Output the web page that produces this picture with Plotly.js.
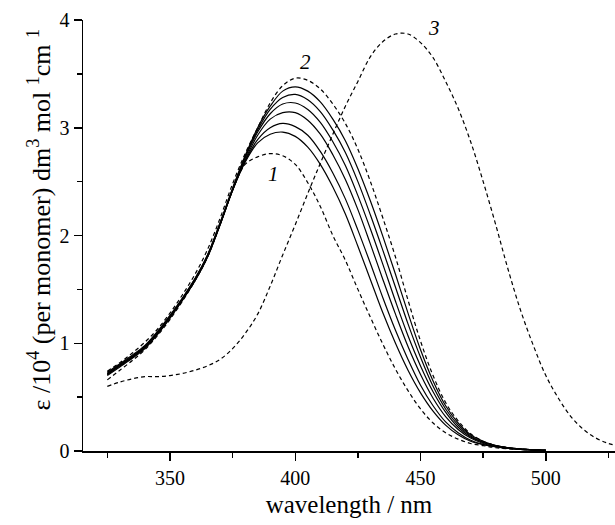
<!DOCTYPE html>
<html>
<head>
<meta charset="utf-8">
<script src="https://cdn.plot.ly/plotly-3.0.1.min.js"></script>
<style>
html,body{margin:0;padding:0;background:#fff;}
#chart{width:615px;height:525px;}
</style>
</head>
<body>
<div id="chart"></div>
<script>
// wavelengths (nm)
const wavelength = [325,330,335,340,345,350,355,360,365,370,375,380,385,390,395,400,405,410,415,420,425,430,435,440,445,450,455,460,465,470,475,480,485,490,495,500];
const wavelength3 = [325,330,335,340,345,350,355,360,365,370,375,380,385,390,395,400,405,410,415,420,425,430,435,440,445,450,455,460,465,470,475,480,485,490,495,500,505,510,515,520,525,530];

// dashed curve 1
const curve1 = [0.66,0.75,0.84,0.94,1.07,1.22,1.39,1.58,1.80,2.10,2.42,2.66,
                2.73,2.76,2.74,2.66,2.49,2.27,2.00,1.77,1.50,1.24,0.99,0.76,
                0.56,0.39,0.26,0.17,0.11,0.07,0.05,0.03,0.02,0.015,0.01,0.005];
// dashed curve 2
const curve2 = [0.74,0.82,0.91,1.01,1.13,1.28,1.45,1.64,1.87,2.16,2.48,2.76,
                3.00,3.23,3.39,3.46,3.44,3.36,3.22,3.04,2.80,2.50,2.16,1.80,
                1.40,1.02,0.70,0.45,0.28,0.16,0.09,0.05,0.03,0.02,0.01,0.005];
// dashed curve 3
const curve3 = [0.60,0.64,0.67,0.69,0.69,0.70,0.72,0.75,0.79,0.85,0.95,1.09,
                1.27,1.53,1.82,2.10,2.39,2.67,2.94,3.20,3.43,3.66,3.80,3.87,
                3.87,3.79,3.65,3.43,3.18,2.87,2.50,2.10,1.68,1.30,0.98,0.70,
                0.49,0.32,0.20,0.12,0.07,0.04];
// intermediate solid curves
const solid1 = [0.70,0.78,0.86,0.95,1.08,1.23,1.40,1.58,1.80,2.10,2.42,2.68,
                2.86,2.94,2.96,2.92,2.82,2.66,2.45,2.20,1.90,1.59,1.28,1.00,
                0.75,0.54,0.37,0.24,0.15,0.09,0.06,0.04,0.025,0.015,0.01,0.005];
const solid2 = [0.71,0.79,0.87,0.96,1.09,1.24,1.40,1.58,1.80,2.10,2.42,2.69,
                2.89,3.00,3.04,3.01,2.93,2.78,2.58,2.34,2.05,1.74,1.42,1.12,
                0.85,0.61,0.42,0.27,0.17,0.10,0.06,0.04,0.025,0.015,0.01,0.005];
const solid3 = [0.71,0.79,0.87,0.96,1.09,1.24,1.41,1.59,1.81,2.10,2.42,2.70,
                2.93,3.08,3.14,3.14,3.07,2.94,2.75,2.52,2.24,1.92,1.59,1.27,
                0.97,0.71,0.49,0.32,0.20,0.12,0.07,0.04,0.025,0.015,0.01,0.005];
const solid4 = [0.72,0.80,0.88,0.97,1.10,1.25,1.41,1.59,1.81,2.11,2.43,2.72,
                2.96,3.13,3.22,3.23,3.17,3.05,2.87,2.65,2.37,2.06,1.73,1.39,
                1.07,0.79,0.55,0.36,0.22,0.13,0.08,0.05,0.03,0.015,0.01,0.005];
const solid5 = [0.72,0.80,0.88,0.97,1.10,1.25,1.42,1.60,1.82,2.11,2.43,2.73,
                2.98,3.17,3.28,3.31,3.26,3.15,2.98,2.77,2.50,2.19,1.86,1.52,
                1.18,0.87,0.60,0.39,0.24,0.14,0.08,0.05,0.03,0.02,0.01,0.005];
const solid6 = [0.73,0.81,0.89,0.98,1.11,1.26,1.42,1.60,1.82,2.12,2.44,2.74,
                3.00,3.20,3.34,3.38,3.34,3.24,3.08,2.88,2.62,2.32,1.99,1.64,
                1.28,0.94,0.65,0.42,0.26,0.15,0.09,0.05,0.03,0.02,0.01,0.005];

const curveLabels = ["1","2","3"];
const labelX = [391.2, 404, 455.2];
const labelY = [2.57, 3.61, 3.93];
const yTitle = "ε /10<sup>4</sup> (per monomer) dm<sup>3</sup> mol <sup>1</sup>cm <sup>1</sup>";
const xTitle = "wavelength / nm";

const FONT = "Liberation Serif, Times New Roman, serif";
const dashed = {color:"#000", width:1.2, dash:"4px,3px", shape:"spline"};
const solid = {color:"#000", width:1.2, shape:"spline"};

const solids = [solid1, solid2, solid3, solid4, solid5, solid6];
const traces = [];
solids.forEach(s => traces.push({x:wavelength, y:s, mode:"lines", line:solid, hoverinfo:"skip"}));
traces.push({x:wavelength, y:curve1, mode:"lines", line:dashed});
traces.push({x:wavelength, y:curve2, mode:"lines", line:dashed});
traces.push({x:wavelength3, y:curve3, mode:"lines", line:dashed});

const annotations = curveLabels.map((t,i) => ({
  x:labelX[i], y:labelY[i], xref:"x", yref:"y", text:t, showarrow:false,
  font:{family:FONT, size:21, color:"#000", style:"italic"}
}));
annotations.push({
  xref:"paper", yref:"paper", x:(58-83)/532, y:(451-220)/431,
  xanchor:"right", yanchor:"middle", textangle:-90, showarrow:false,
  text:yTitle, font:{family:FONT, size:26, color:"#000"}
});

const layout = {
  width:615, height:525,
  margin:{l:83, r:0, t:20, b:74},
  paper_bgcolor:"#fff", plot_bgcolor:"#fff",
  showlegend:false,
  font:{family:FONT, color:"#000", size:20},
  xaxis:{
    showline:true, linecolor:"#000", linewidth:1.5,
    ticks:"outside", ticklen:8, tickwidth:1.5, tickcolor:"#000",
    showgrid:false, zeroline:false,
    tickfont:{family:FONT, size:20, color:"#000"},
    range:[315.3, 527.6], tick0:350, dtick:50,
    minor:{dtick:25, tick0:325, ticks:"outside", ticklen:5, tickwidth:1.5, tickcolor:"#000", showgrid:false},
    title:{text:xTitle, font:{family:FONT, size:25, color:"#000"}, standoff:8}
  },
  yaxis:{
    showline:true, linecolor:"#000", linewidth:1.5,
    ticks:"outside", ticklen:8, tickwidth:1.5, tickcolor:"#000",
    showgrid:false, zeroline:false,
    tickfont:{family:FONT, size:20, color:"#000"},
    range:[0, 4], tick0:0, dtick:1,
    minor:{dtick:0.5, ticks:"outside", ticklen:5, tickwidth:1.5, tickcolor:"#000", showgrid:false}
  },
  annotations: annotations
};

Plotly.newPlot("chart", traces, layout, {staticPlot:true, displayModeBar:false});
</script>
</body>
</html>
